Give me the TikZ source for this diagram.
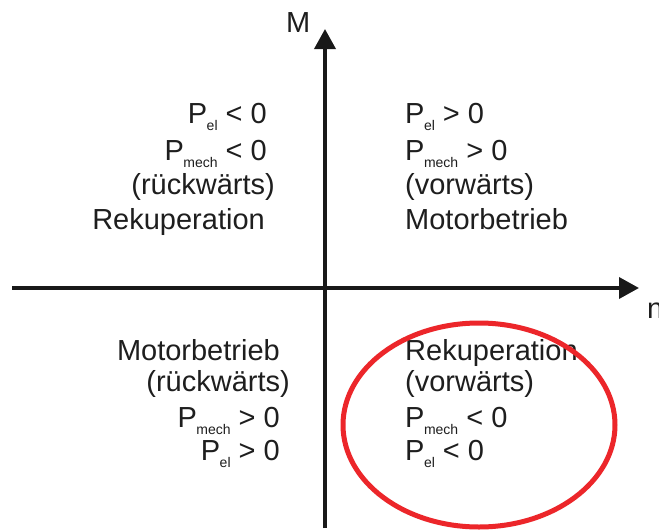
\documentclass[tikz,border=0pt]{standalone}
\usepackage{fontspec}
\setmainfont{Liberation Sans}
\usetikzlibrary{arrows.meta}
\definecolor{txt}{RGB}{30,30,30}
\definecolor{ringred}{RGB}{236,38,42}
\newcommand{\sbs}[1]{\raisebox{-7pt}{\fontsize{14}{14}\selectfont\hspace{-0.5pt}#1}}
\tikzset{
  axis/.style={line width=3.6pt, draw=black!90, -{Triangle[length=20pt,width=21pt]}},
  lbl/.style={inner sep=0pt, text=txt, font=\fontsize{29}{29}\selectfont},
  ring/.style={draw=ringred, line width=5pt},
}
\begin{document}
\begin{tikzpicture}[x=1pt,y=-1pt]
\useasboundingbox (0,0) rectangle (659,530);
\fill[white] (0,0) rectangle (659,530);
% axes
\coordinate (vb) at (325,528);
\coordinate (vt) at (325,29);
\coordinate (hl) at (12,288);
\coordinate (hr) at (639,288);
\draw[axis] (vb) -- (vt);
\draw[axis] (hl) -- (hr);
\node[lbl, anchor=base west] (M) at (286,32) {M};
\node[lbl, anchor=base west] (n) at (647,318) {n};
% top-left
\node[lbl, anchor=base east] (tl1) at (267,123) {P\sbs{el} < 0};
\node[lbl, anchor=base east] (tl2) at (267,160) {P\sbs{mech} < 0};
\node[lbl, anchor=base east] (tl3) at (275,194) {(rückwärts)};
\node[lbl, anchor=base east] (tl4) at (265,229) {Rekuperation};
% top-right
\node[lbl, anchor=base west] (tr1) at (405,123) {P\sbs{el} > 0};
\node[lbl, anchor=base west] (tr2) at (405,160) {P\sbs{mech} > 0};
\node[lbl, anchor=base west] (tr3) at (405,194) {(vorwärts)};
\node[lbl, anchor=base west] (tr4) at (405,229) {Motorbetrieb};
% bottom-left
\node[lbl, anchor=base east] (bl1) at (280,360) {Motorbetrieb};
\node[lbl, anchor=base east] (bl2) at (290,391) {(rückwärts)};
\node[lbl, anchor=base east] (bl3) at (280,427) {P\sbs{mech} > 0};
\node[lbl, anchor=base east] (bl4) at (280,460) {P\sbs{el} > 0};
% bottom-right
\node[lbl, anchor=base west] (br1) at (405,360) {Rekuperation};
\node[lbl, anchor=base west] (br2) at (405,391) {(vorwärts)};
\node[lbl, anchor=base west] (br3) at (405,427) {P\sbs{mech} < 0};
\node[lbl, anchor=base west] (br4) at (405,460) {P\sbs{el} < 0};
% red ellipse
\draw[ring] (479,425) ellipse [x radius=136, y radius=102];
\end{tikzpicture}
\end{document}
